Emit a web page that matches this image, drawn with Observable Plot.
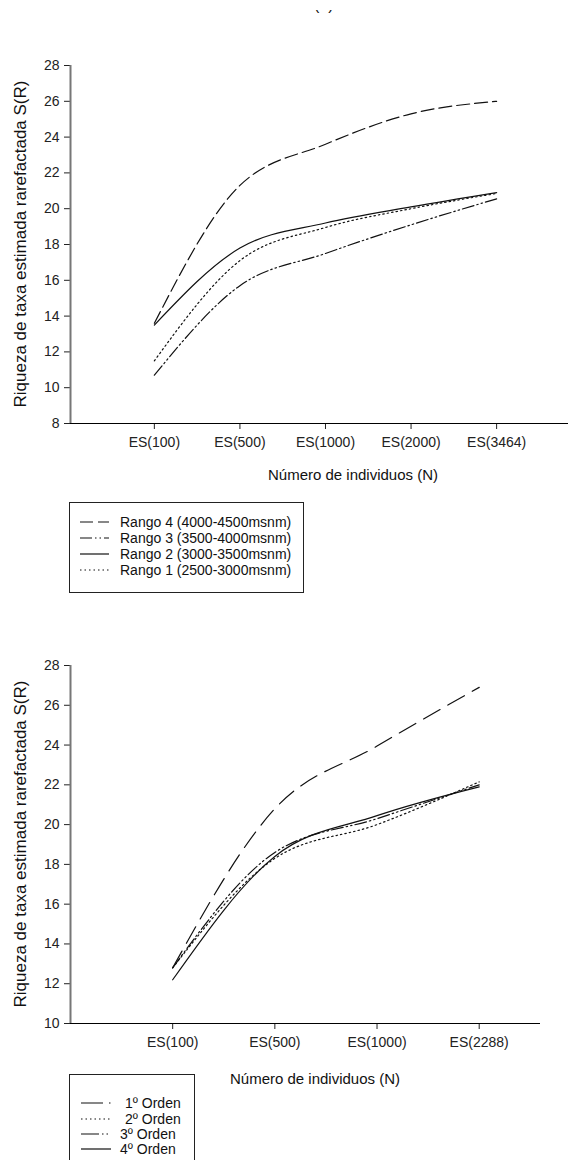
<!DOCTYPE html>
<html>
<head>
<meta charset="utf-8">
<script src="https://cdn.jsdelivr.net/npm/d3@7"></script>
<script src="https://cdn.jsdelivr.net/npm/@observablehq/plot@0.6"></script>
<style>
  html, body { margin: 0; padding: 0; background: #fff; }
  body { width: 571px; height: 1160px; position: relative; overflow: hidden; font-family: "Liberation Sans", Arial, sans-serif; color: #111; }
  .abs { position: absolute; }
  .ytitle { position: absolute; white-space: nowrap; font-size: 17px; transform: translate(-50%, -50%) rotate(-90deg); }
  .xtitle { position: absolute; white-space: nowrap; font-size: 15px; transform: translateX(-50%); }
  .legend { position: absolute; border: 1px solid #222; background: #fff; box-sizing: border-box; }
  .legend .row { position: absolute; left: 0; height: 16px; font-size: 14px; line-height: 16px; white-space: nowrap; }
  .legend svg { position: absolute; overflow: visible; }
</style>
</head>
<body>
<div id="fragment" class="abs" style="left:314px; top:10px; height:4px; width:30px; overflow:hidden;">
  <div style="position:absolute; top:-13.5px; left:0; font-size:16px; line-height:16px; white-space:nowrap;">(a)</div>
</div>
<div id="chart1" class="abs" style="left:0; top:0;"></div>
<div id="chart2" class="abs" style="left:0; top:600px;"></div>
<div class="ytitle" style="left:21px; top:244px;">Riqueza de taxa estimada rarefactada S(R)</div>
<div class="ytitle" style="left:21px; top:844px;">Riqueza de taxa estimada rarefactada S(R)</div>
<div class="xtitle" style="left:353px; top:466px;">Número de individuos (N)</div>
<div class="xtitle" style="left:315px; top:1070px;">Número de individuos (N)</div>
<div id="legend1" class="legend" style="left:69px; top:502px; width:235px; height:91px;"></div>
<div id="legend2" class="legend" style="left:69px; top:1074px; width:126px; height:100px;"></div>
<script>
// ---- Data: top chart (altitudinal ranges) ----
const topCats = ["ES(100)", "ES(500)", "ES(1000)", "ES(2000)", "ES(3464)"];
const rango4 = [13.6, 21.3, 23.6, 25.3, 26.0];
const rango3 = [10.7, 15.7, 17.5, 19.1, 20.55];
const rango2 = [13.5, 17.8, 19.2, 20.1, 20.9];
const rango1 = [11.5, 17.1, 18.95, 20.0, 20.85];
const topNames = ["Rango 4 (4000-4500msnm)", "Rango 3 (3500-4000msnm)", "Rango 2 (3000-3500msnm)", "Rango 1 (2500-3000msnm)"];
const topTicksY = [8, 10, 12, 14, 16, 18, 20, 22, 24, 26, 28];

// ---- Data: bottom chart (stream orders) ----
const botCats = ["ES(100)", "ES(500)", "ES(1000)", "ES(2288)"];
const orden1 = [12.8, 20.8, 23.95, 26.9];
const orden2 = [12.8, 18.3, 20.0, 22.15];
const orden3 = [12.8, 18.6, 20.3, 22.0];
const orden4 = [12.2, 18.4, 20.45, 21.9];
const botNames = ["1º Orden", "2º Orden", "3º Orden", "4º Orden"];
const botTicksY = [10, 12, 14, 16, 18, 20, 22, 24, 26, 28];

// ---- styles ----
const topDash = ["13,5", "12,3,1.5,3,1.5,3", null, "1.5,3"];
const botDash = ["19,9", "1.5,3", "12,3,1.5,3,1.5,3", null];

function rows(cats, series, names) {
  const out = [];
  series.forEach((vals, s) => vals.forEach((v, i) => out.push({x: i, y: v, series: names[s], cat: cats[i]})));
  return out;
}

function makeChart(cats, series, names, dashes, yDomain, yTicks, xDomain, marginRight) {
  const data = rows(cats, series, names);
  const lines = names.map((n, s) => Plot.line(data.filter(d => d.series === n), {
    x: "x", y: "y", curve: "monotone-x",
    stroke: "#111", strokeWidth: 1.2,
    strokeDasharray: dashes[s] || undefined
  }));
  return Plot.plot({
    width: 571,
    height: 460,
    marginTop: 65,
    marginBottom: 37,
    marginLeft: 70,
    marginRight: marginRight,
    style: {fontFamily: "'Liberation Sans', Arial, sans-serif", fontSize: "14px", color: "#222", background: "transparent", overflow: "visible"},
    x: {type: "linear", domain: xDomain, ticks: cats.map((c, i) => i), tickFormat: i => cats[i], tickSize: 6, tickPadding: 8, label: null},
    y: {domain: yDomain, ticks: yTicks, tickSize: 6, tickPadding: 5, label: null},
    marks: [
      Plot.ruleX([xDomain[0]], {stroke: "#777", strokeWidth: 2}),
      Plot.ruleY([yDomain[0]], {stroke: "#000", strokeWidth: 1.2}),
      ...lines
    ]
  });
}

document.getElementById("chart1").appendChild(
  makeChart(topCats, [rango4, rango3, rango2, rango1], topNames, topDash, [8, 28], topTicksY, [-0.98, 4.84], 3)
);
document.getElementById("chart2").appendChild(
  makeChart(botCats, [orden1, orden2, orden3, orden4], botNames, botDash, [10, 28], botTicksY, [-1, 3.6], 31)
);

// ---- legends ----
function legend(el, names, dashes, rowTops, lineX0, lineX1, textX) {
  names.forEach((n, i) => {
    const row = document.createElement("div");
    row.className = "row";
    row.style.top = (rowTops[i] - 8) + "px";
    row.style.width = "100%";
    const ns = "http://www.w3.org/2000/svg";
    const svg = document.createElementNS(ns, "svg");
    svg.setAttribute("width", lineX1 - lineX0);
    svg.setAttribute("height", 16);
    svg.style.left = lineX0 + "px";
    svg.style.top = "0px";
    const ln = document.createElementNS(ns, "line");
    ln.setAttribute("x1", 0); ln.setAttribute("x2", lineX1 - lineX0);
    ln.setAttribute("y1", 8); ln.setAttribute("y2", 8);
    ln.setAttribute("stroke", "#111"); ln.setAttribute("stroke-width", 1.2);
    if (dashes[i]) ln.setAttribute("stroke-dasharray", dashes[i]);
    svg.appendChild(ln);
    row.appendChild(svg);
    const t = document.createElement("span");
    t.textContent = n;
    t.style.position = "absolute";
    t.style.left = (Array.isArray(textX) ? textX[i] : textX) + "px";
    t.style.top = "0px";
    row.appendChild(t);
    el.appendChild(row);
  });
}
legend(document.getElementById("legend1"), topNames, topDash, [19, 35, 51, 67], 10, 39, 50);
legend(document.getElementById("legend2"), botNames, ["22,6,1.5,5", "1.5,3", "18,3,1.5,3,1.5,3", null], [28, 44, 59, 74], 11, 41, [55, 55, 50, 50]);
</script>
</body>
</html>
